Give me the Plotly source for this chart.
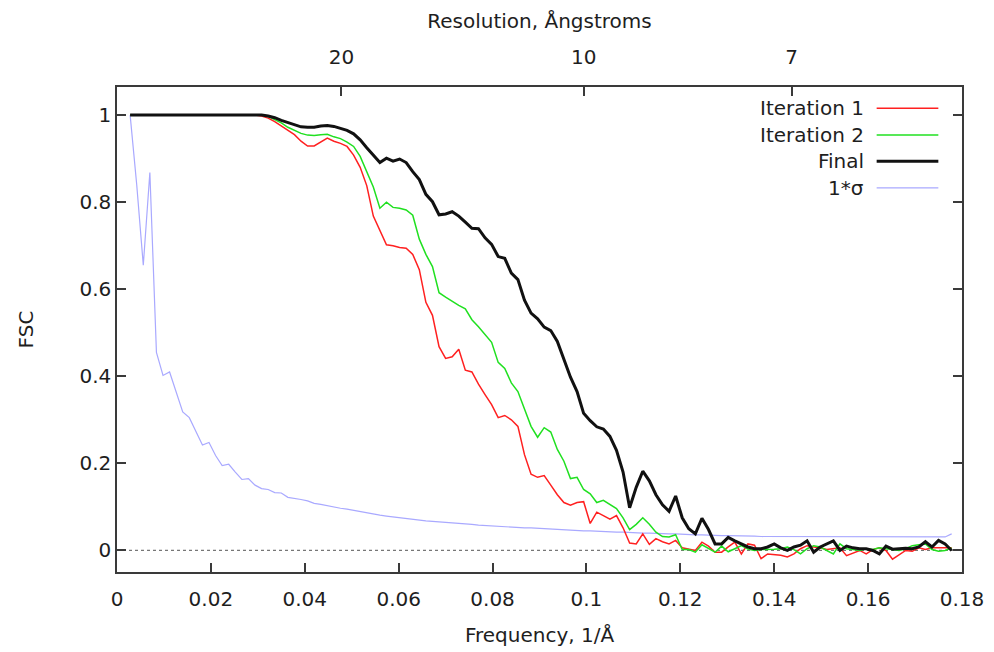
import plotly.graph_objects as go

# Fourier shell index and frequency step (1/Å)
FREQ_STEP = 0.0014
shells = list(range(2, 128))
freq = [round(s * FREQ_STEP, 5) for s in shells]

iteration1 = [
    1.000, 1.000, 1.000, 1.000, 1.000, 1.000, 1.000, 1.000, 1.000, 1.000,
    1.000, 1.000, 1.000, 1.000, 1.000, 1.000, 1.000, 1.000, 1.000, 1.000,
    0.998, 0.993, 0.985, 0.975, 0.963, 0.955, 0.940, 0.929, 0.929, 0.938,
    0.947, 0.940, 0.935, 0.928, 0.908, 0.880, 0.838, 0.768, 0.735, 0.702,
    0.700, 0.696, 0.694, 0.680, 0.645, 0.570, 0.540, 0.468, 0.441, 0.445,
    0.462, 0.414, 0.410, 0.382, 0.358, 0.335, 0.305, 0.310, 0.300, 0.285,
    0.220, 0.175, 0.168, 0.172, 0.150, 0.128, 0.110, 0.104, 0.110, 0.112,
    0.062, 0.088, 0.080, 0.072, 0.080, 0.052, 0.017, 0.015, 0.038, 0.014,
    0.027, 0.020, 0.015, 0.023, 0.006, 0.003, 0.000, 0.019, 0.010, -0.004,
    -0.004, 0.008, 0.019, -0.008, 0.015, 0.012, -0.019, -0.008, -0.010, -0.011,
    -0.015, -0.008, 0.004, 0.011, 0.008, 0.006, 0.002, 0.004, 0.006, -0.012,
    -0.006, 0.000, -0.008, 0.002, 0.006, 0.000, -0.020, -0.010, 0.000, -0.002,
    0.006, 0.002, 0.006, 0.006, 0.006, 0.006,
]

iteration2 = [
    1.000, 1.000, 1.000, 1.000, 1.000, 1.000, 1.000, 1.000, 1.000, 1.000,
    1.000, 1.000, 1.000, 1.000, 1.000, 1.000, 1.000, 1.000, 1.000, 1.000,
    1.000, 0.997, 0.990, 0.982, 0.972, 0.965, 0.958, 0.954, 0.953, 0.955,
    0.956, 0.950, 0.946, 0.938, 0.928, 0.905, 0.870, 0.835, 0.786, 0.800,
    0.788, 0.786, 0.782, 0.770, 0.715, 0.680, 0.652, 0.592, 0.582, 0.572,
    0.563, 0.555, 0.530, 0.514, 0.497, 0.478, 0.432, 0.418, 0.385, 0.365,
    0.325, 0.285, 0.260, 0.282, 0.272, 0.232, 0.205, 0.165, 0.168, 0.140,
    0.130, 0.110, 0.115, 0.105, 0.096, 0.075, 0.048, 0.060, 0.075, 0.060,
    0.042, 0.032, 0.031, 0.036, 0.002, 0.002, -0.004, 0.013, 0.004, -0.004,
    0.010, -0.003, 0.004, 0.011, 0.003, 0.000, 0.002, 0.002, 0.003, 0.004,
    0.008, 0.002, -0.008, 0.004, 0.011, 0.008, 0.000, -0.008, 0.015, 0.004,
    0.002, 0.000, 0.004, 0.002, 0.006, 0.004, 0.002, 0.000, 0.004, 0.011,
    0.013, 0.015, 0.002, -0.002, 0.000, 0.006,
]

final = [
    1.000, 1.000, 1.000, 1.000, 1.000, 1.000, 1.000, 1.000, 1.000, 1.000,
    1.000, 1.000, 1.000, 1.000, 1.000, 1.000, 1.000, 1.000, 1.000, 1.000,
    1.000, 0.998, 0.994, 0.988, 0.983, 0.977, 0.973, 0.972, 0.972, 0.975,
    0.976, 0.974, 0.970, 0.965, 0.957, 0.943, 0.925, 0.908, 0.891, 0.901,
    0.894, 0.899, 0.891, 0.870, 0.852, 0.818, 0.801, 0.771, 0.773, 0.778,
    0.768, 0.754, 0.740, 0.739, 0.718, 0.703, 0.675, 0.671, 0.637, 0.622,
    0.575, 0.545, 0.532, 0.513, 0.505, 0.480, 0.440, 0.398, 0.365, 0.315,
    0.298, 0.284, 0.279, 0.262, 0.230, 0.180, 0.098, 0.145, 0.182, 0.160,
    0.128, 0.105, 0.090, 0.125, 0.075, 0.050, 0.038, 0.074, 0.048, 0.015,
    0.015, 0.030, 0.022, 0.015, 0.008, 0.004, 0.004, 0.008, 0.015, 0.006,
    0.000, 0.008, 0.012, 0.022, -0.004, 0.008, 0.015, 0.022, 0.000, 0.010,
    0.006, 0.004, 0.004, 0.000, -0.008, 0.010, 0.003, 0.004, 0.005, 0.004,
    0.008, 0.020, 0.008, 0.023, 0.015, 0.000,
]

sigma = [
    1.000, 0.840, 0.655, 0.868, 0.455, 0.402, 0.410, 0.365, 0.318, 0.305,
    0.275, 0.242, 0.248, 0.218, 0.195, 0.198, 0.180, 0.163, 0.165, 0.150,
    0.142, 0.140, 0.133, 0.132, 0.122, 0.120, 0.117, 0.114, 0.108, 0.106,
    0.103, 0.099, 0.097, 0.095, 0.092, 0.090, 0.087, 0.084, 0.081, 0.079,
    0.077, 0.075, 0.074, 0.072, 0.069, 0.068, 0.067, 0.066, 0.064, 0.063,
    0.062, 0.061, 0.060, 0.058, 0.057, 0.056, 0.055, 0.055, 0.054, 0.053,
    0.052, 0.052, 0.051, 0.050, 0.049, 0.048, 0.047, 0.046, 0.046, 0.045,
    0.045, 0.044, 0.044, 0.043, 0.042, 0.042, 0.041, 0.041, 0.040, 0.040,
    0.039, 0.039, 0.038, 0.038, 0.037, 0.037, 0.036, 0.036, 0.035, 0.035,
    0.034, 0.034, 0.034, 0.033, 0.033, 0.033, 0.032, 0.032, 0.032, 0.031,
    0.031, 0.031, 0.031, 0.031, 0.031, 0.031, 0.031, 0.031, 0.031, 0.031,
    0.031, 0.031, 0.031, 0.031, 0.031, 0.031, 0.031, 0.031, 0.031, 0.031,
    0.031, 0.031, 0.031, 0.031, 0.031, 0.038,
]

series_names = ["Iteration 1", "Iteration 2", "Final", "1*σ"]
series_colors = ["#ff2020", "#20e020", "#111111", "#a9a9ff"]
series_widths = [1.5, 1.5, 3, 1.2]

resolution_ticks = ["20", "10", "7"]
resolution_tick_freq = [0.0478, 0.0994, 0.1437]

FONT = "DejaVu Sans"
FS = 20
TXT = "#1e1e1e"
AX = "#3a3a3a"

fig = go.Figure()
order = [3, 0, 1, 2]
data = [iteration1, iteration2, final, sigma]
for i in order:
    fig.add_trace(go.Scatter(
        x=freq, y=data[i], mode="lines", name=series_names[i],
        line=dict(color=series_colors[i], width=series_widths[i]),
        showlegend=False,
    ))
# invisible trace to anchor the top resolution axis
fig.add_trace(go.Scatter(x=[freq[0]], y=[final[0]], xaxis="x2", mode="lines",
                         showlegend=False, hoverinfo="skip", opacity=0))

fig.update_layout(
    width=994, height=652,
    margin=dict(l=117, r=32, t=87, b=80),
    paper_bgcolor="white", plot_bgcolor="white",
    font=dict(family=FONT, size=FS, color=TXT),
    xaxis=dict(
        range=[0, 0.18], tickvals=[0, 0.02, 0.04, 0.06, 0.08, 0.1, 0.12, 0.14, 0.16, 0.18],
        ticktext=["0", "0.02", "0.04", "0.06", "0.08", "0.1", "0.12", "0.14", "0.16", "0.18"],
        ticks="inside", ticklen=9, tickwidth=1.5, tickcolor=AX,
        showline=True, linecolor=AX, linewidth=1.5, mirror=True,
        showgrid=False, zeroline=False, ticklabelstandoff=8, automargin=False,
        title=dict(text="Frequency, 1/Å", standoff=18, font=dict(size=FS)),
    ),
    xaxis2=dict(
        overlaying="x", side="top", range=[0, 0.18],
        tickvals=resolution_tick_freq, ticktext=resolution_ticks,
        ticks="inside", ticklen=9, tickwidth=1.5, tickcolor=AX,
        showline=True, linecolor=AX, linewidth=1.5,
        showgrid=False, zeroline=False, ticklabelstandoff=13, automargin=False,
        title=dict(text="Resolution, Ångstroms", standoff=11, font=dict(size=FS)),
    ),
    yaxis=dict(
        range=[-0.0495, 1.0645], tickvals=[0, 0.2, 0.4, 0.6, 0.8, 1],
        ticktext=["0", "0.2", "0.4", "0.6", "0.8", "1"],
        ticks="inside", ticklen=9, tickwidth=1.5, tickcolor=AX,
        showline=True, linecolor=AX, linewidth=1.5, mirror="ticks",
        showgrid=False, zeroline=False, ticklabelstandoff=0, automargin=False,
        title=dict(text="FSC", standoff=40, font=dict(size=FS)),
    ),
)

# dotted zero reference line
fig.add_shape(type="line", xref="paper", yref="y", x0=0, x1=1, y0=0, y1=0,
              line=dict(color="#777777", width=1.2, dash="dot"), layer="below")

# gnuplot-style key: right-aligned text with sample line to its right
legend_rows_y = [0.956, 0.901, 0.847, 0.792]
for name, color, width, yy in zip(series_names, series_colors, series_widths, legend_rows_y):
    fig.add_annotation(xref="paper", yref="paper", x=0.886, y=yy, text=name,
                       showarrow=False, xanchor="right", yanchor="middle",
                       font=dict(family=FONT, size=FS, color=TXT))
    fig.add_shape(type="line", xref="paper", yref="paper", x0=0.899, x1=0.972,
                  y0=yy, y1=yy, line=dict(color=color, width=width))

fig.write_html("out.html", config={"displayModeBar": False},
               post_script="document.body.style.margin='0';")
